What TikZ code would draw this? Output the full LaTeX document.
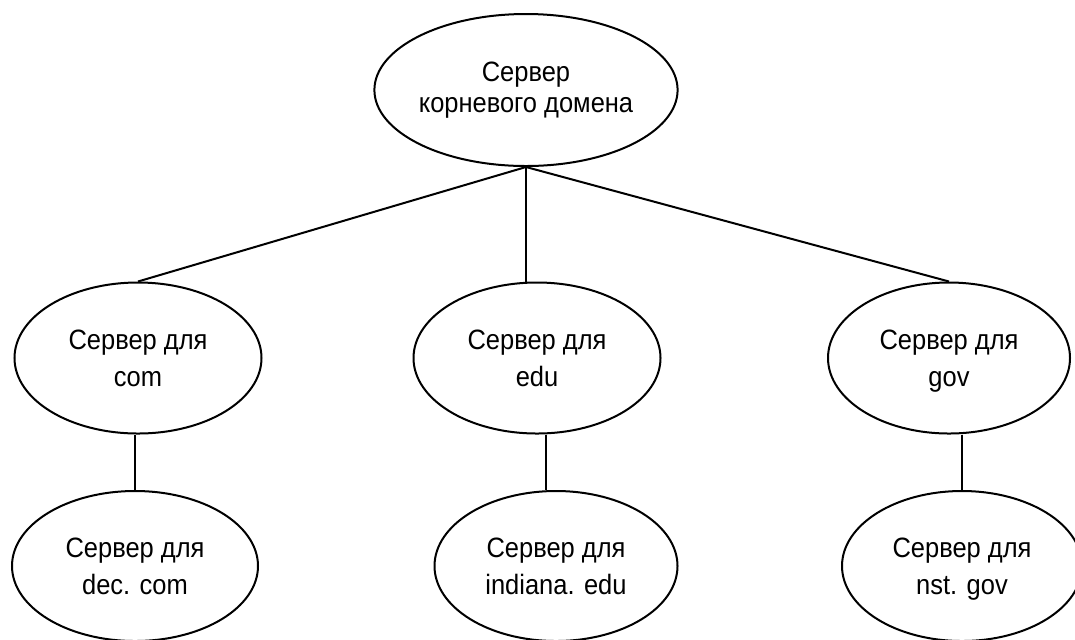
\documentclass[tikz,border=0pt]{standalone}
\usepackage{fontspec}
\setmainfont{Liberation Sans}[FakeStretch=0.91]
\usetikzlibrary{shapes.geometric}

\tikzset{
	server/.style={ellipse,draw,line width=1pt,align=center,inner sep=0pt,text depth=0pt,font=\fontsize{14}{18.3}\selectfont},
	link/.style={line width=1pt}
}

\begin{document}
\begin{tikzpicture}[x=0.5pt,y=-0.5pt]
	\clip (0,0) rectangle (1075,639);
	
	%ROOT
	\node[server,minimum width=148pt,minimum height=76pt,text depth=2.5pt,font=\fontsize{14}{15.5}\selectfont] (root) at (526,90) {Сервер\\корневого домена};
	
	%SECOND LEVEL
	\node[server,minimum width=123.5pt,minimum height=75.5pt] (com) at (138,358) {Сервер для\\com};
	\node[server,minimum width=123.5pt,minimum height=75.5pt] (edu) at (537,358) {Сервер для\\edu};
	\node[server,minimum width=121pt,minimum height=75.5pt] (gov) at (949,358) {Сервер для\\gov};
	
	%THIRD LEVEL (cut off at the bottom)
	\node[server,minimum width=123pt,minimum height=75pt] (dec) at (135,566) {Сервер для\\dec. com};
	\node[server,minimum width=121.5pt,minimum height=75pt] (indiana) at (556,566) {Сервер для\\indiana. edu};
	\node[server,minimum width=120pt,minimum height=75pt] (nst) at (962,566) {Сервер для\\nst. gov};
	
	%CONNECTORS
	\draw[link] (root.south) -- (com.north);
	\draw[link] (root.south) -- (root.south |- edu.north);
	\draw[link] (root.south) -- (gov.north);
	%
	\draw[link] (dec.north |- com.south) -- (dec.north);
	\draw[link] (edu.south -| 546,0) -- (indiana.north -| 546,0);
	\draw[link] (nst.north |- gov.south) -- (nst.north);
\end{tikzpicture}
\end{document}
